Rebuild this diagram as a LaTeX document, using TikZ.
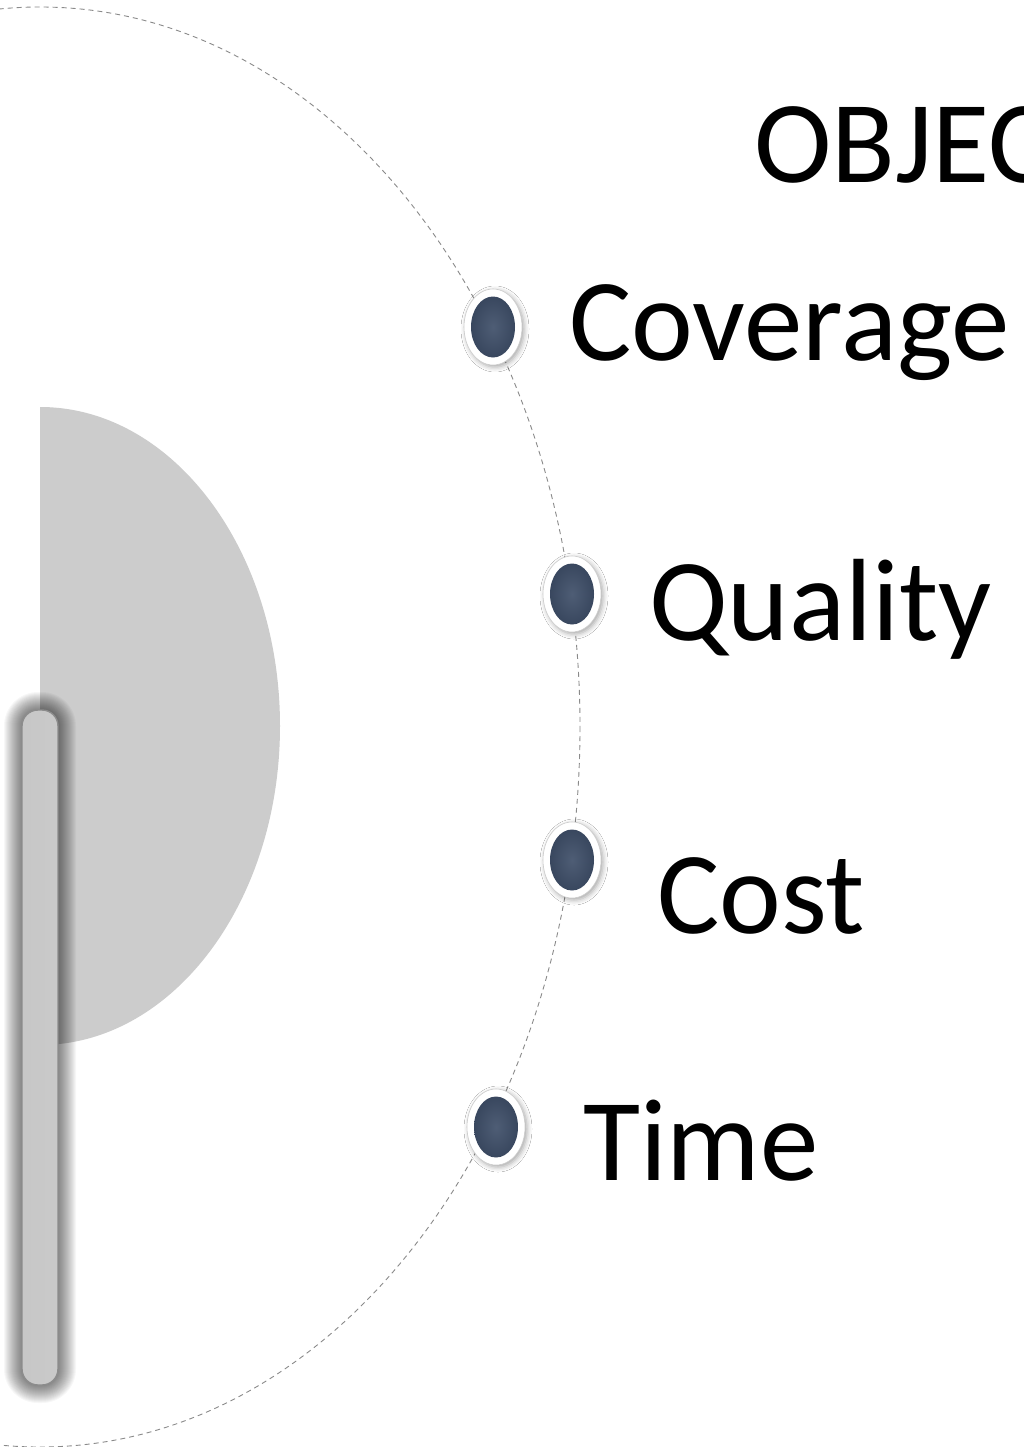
\documentclass[tikz,border=0pt]{standalone}
\usepackage{fontspec}
\setmainfont{Carlito}
\usetikzlibrary{shapes.geometric,shadows.blur}
\definecolor{dotblue}{HTML}{3F4F69}
\definecolor{halfgray}{HTML}{CCCCCC}
\definecolor{dashgray}{HTML}{8A8A8A}
\begin{document}
\begin{tikzpicture}[x=1pt,y=-1pt,
  lbl/.style={anchor=base west, inner sep=0pt, font=\fontsize{117}{140}\selectfont},
  dotouter/.style={ellipse, minimum width=58pt, minimum height=76pt, inner sep=0pt,
    fill=white, draw=black!20, line width=0.6pt,
    blur shadow={shadow xshift=2pt, shadow yshift=-2pt, shadow blur radius=5pt, shadow opacity=35}},
  dotinner/.style={ellipse, minimum width=44pt, minimum height=61pt, inner sep=0pt,
    inner color=dotblue!92!white, outer color=dotblue!90!black},
  barbox/.style={rectangle, rounded corners=16pt, minimum width=36pt, minimum height=675pt,
    inner sep=0pt, draw=black!45, line width=1.4pt,
    left color=black!22, middle color=black!15, right color=black!21},
  barshade/.style={fill=black, opacity=0.032}
]
\useasboundingbox (0,0) rectangle (1023,1447);
\fill[white] (0,0) rectangle (1023,1447);
\clip (0,0) rectangle (1023,1447);
% grey half ellipse
\begin{scope}
  \clip (40,0) rectangle (400,1447);
  \fill[halfgray] (40,726) ellipse[x radius=240, y radius=319];
\end{scope}
% dashed big ellipse
\draw[dashgray, line width=0.9pt, dash pattern=on 5pt off 4pt] (40,727) ellipse[x radius=540, y radius=720];
% soft shadow of the bar
\foreach \r in {1,...,18}{
  \fill[barshade, rounded corners=16pt+\r pt] (22-\r,710-\r) rectangle (58+\r,1385+\r);
}
% bar
\node[barbox] (bar) at (40,1047.5) {};
% dots
\node[dotouter] (d1) at (493,327) {};
\node[dotinner] (i1) at (d1.center) {};
\node[dotouter] (d2) at (572,594) {};
\node[dotinner] (i2) at (d2.center) {};
\node[dotouter] (d3) at (572,860) {};
\node[dotinner] (i3) at (d3.center) {};
\node[dotouter] (d4) at (496,1127) {};
\node[dotinner] (i4) at (d4.center) {};
% labels
\node[lbl] (obj) at (754,183) {OBJEC};
\node[lbl] (cov) at (569,360) {Coverage};
\node[lbl] (qual) at (649,640) {Quality};
\node[lbl] (cost) at (657,933) {Cost};
\node[lbl] (time) at (583,1180) {Time};
\end{tikzpicture}
\end{document}
